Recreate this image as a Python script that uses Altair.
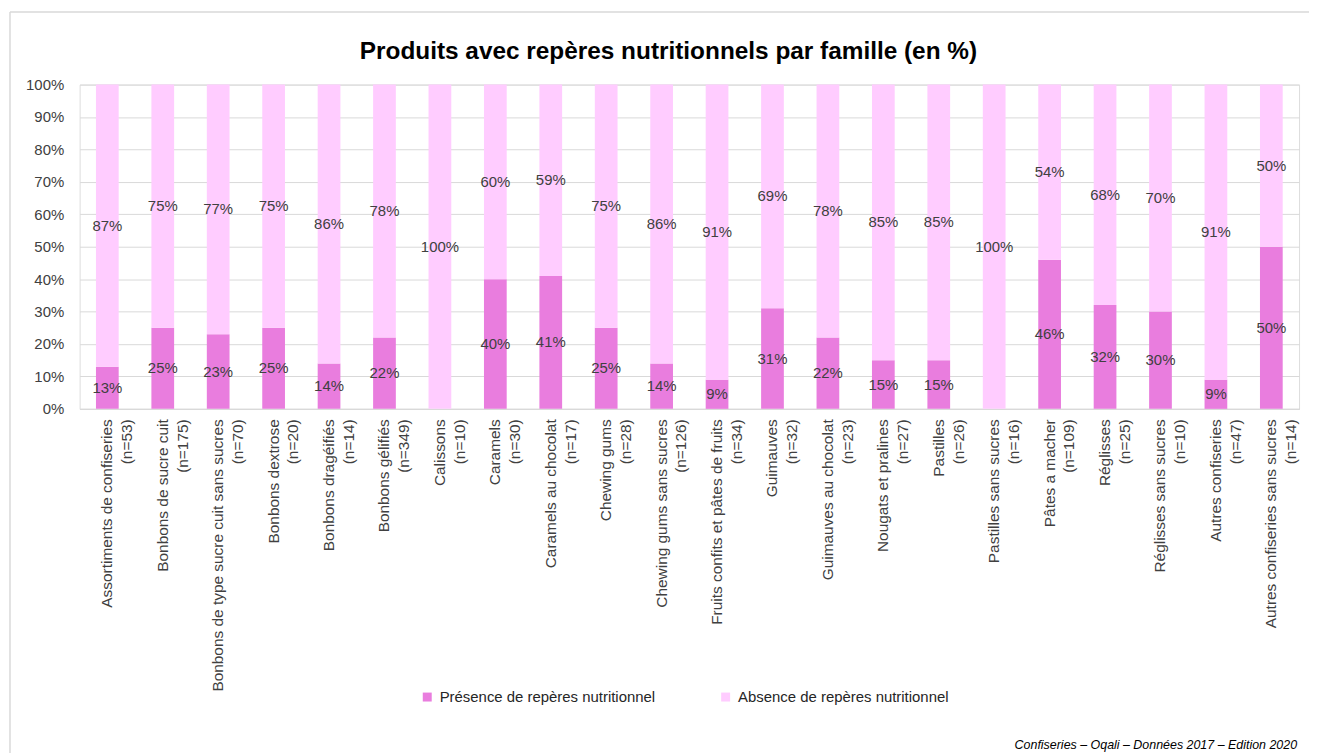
import altair as alt
import pandas as pd

# ---------------- data ----------------
familles = [
    "Assortiments de confiseries", "Bonbons de sucre cuit",
    "Bonbons de type sucre cuit sans sucres", "Bonbons dextrose",
    "Bonbons dragéifiés", "Bonbons gélifiés", "Calissons", "Caramels",
    "Caramels au chocolat", "Chewing gums", "Chewing gums sans sucres",
    "Fruits confits et pâtes de fruits", "Guimauves", "Guimauves au chocolat",
    "Nougats et pralines", "Pastilles", "Pastilles sans sucres",
    "Pâtes a macher", "Réglisses", "Réglisses sans sucres",
    "Autres confiseries", "Autres confiseries sans sucres",
]
effectifs = [53, 175, 70, 20, 14, 349, 10, 30, 17, 28, 126, 34, 32, 23, 27,
             26, 16, 109, 25, 10, 47, 14]
presence = [13, 25, 23, 25, 14, 22, 0, 40, 41, 25, 14, 9, 31, 22, 15, 15, 0,
            46, 32, 30, 9, 50]
absence = [87, 75, 77, 75, 86, 78, 100, 60, 59, 75, 86, 91, 69, 78, 85, 85,
           100, 54, 68, 70, 91, 50]
y_ticks = [0, 10, 20, 30, 40, 50, 60, 70, 80, 90, 100]
series = ["Présence de repères nutritionnel", "Absence de repères nutritionnel"]
colors = ["#E97DDE", "#FFCCFF"]
title_text = "Produits avec repères nutritionnels par famille (en %)"
footer_text = "Confiseries – Oqali – Données 2017 – Edition 2020"

FONT = "Liberation Sans"
LABEL_SIZE = 15.5

# approximate advance widths (Arial / Liberation Sans metrics, per 1000 em)
_w = {" ": 278, "\u00a0": 278, "(": 333, ")": 333, "=": 584, "%": 889}
for _d in "0123456789":
    _w[_d] = 556
_w.update(dict(a=556, b=556, c=500, d=556, e=556, f=278, g=556, h=556, i=222,
               j=222, k=500, l=222, m=833, n=556, o=556, p=556, q=556, r=333,
               s=500, t=278, u=556, v=500, w=722, x=500, y=500, z=500))
_w.update({"A": 667, "B": 667, "C": 722, "F": 611, "G": 778, "N": 722,
           "P": 667, "R": 722, "é": 556, "è": 556, "â": 556, "ê": 556})


def text_w(s):
    return sum(_w.get(ch, 556) for ch in s)


def make_key(name, n):
    l1, l2 = name, f"(n={n})"
    w1, w2 = text_w(l1), text_w(l2)
    pad = int(round(abs(w1 - w2) / 2 / 278))
    if w1 >= w2:
        l2 = l2 + "\u00a0" * pad
    else:
        l1 = l1 + "\u00a0" * pad
    return l1 + "|" + l2


keys = [make_key(f, n) for f, n in zip(familles, effectifs)]

rows = []
for k, p, a in zip(keys, presence, absence):
    rows.append({"key": k, "serie": series[0], "value": p / 100, "ord": 0})
    rows.append({"key": k, "serie": series[1], "value": a / 100, "ord": 1})
df = pd.DataFrame(rows)

W, H = 1226, 326

x_enc = alt.X(
    "key:N", sort=keys,
    scale=alt.Scale(paddingInner=0.59, paddingOuter=0.295),
    axis=alt.Axis(
        title=None, labelExpr="split(datum.value, '|')", labelAngle=270,
        labelAlign="right", labelBaseline="middle", labelFont=FONT,
        labelFontSize=LABEL_SIZE, labelColor="#404040", labelLineHeight=20,
        labelPadding=10, labelLimit=500, labelOverlap=False, ticks=False,
        domainColor="#d9d9d9", domainWidth=1, grid=False,
    ),
)

y_axis = alt.Axis(
    title=None, format=".0%", values=[v / 100 for v in y_ticks],
    labelFont=FONT, labelFontSize=15, labelColor="#404040",
    labelPadding=16, ticks=False, domain=False, grid=True,
    gridColor="#d9d9d9", gridWidth=1, labelOverlap=False,
)
y_scale = alt.Scale(domain=[0, 1], nice=False)

base = alt.Chart(df).transform_stack(
    stack="value", groupby=["key"], as_=["v0", "v1"],
    sort=[alt.SortField("ord", order="ascending")],
).transform_calculate(mid="(datum.v0 + datum.v1) / 2")

bars = base.mark_bar().encode(
    x=x_enc,
    y=alt.Y("v0:Q", scale=y_scale, axis=y_axis),
    y2="v1:Q",
    color=alt.Color(
        "serie:N", scale=alt.Scale(domain=series, range=colors),
        legend=alt.Legend(
            title=None, orient="none", legendX=342, legendY=608,
            direction="horizontal", symbolType="square", symbolSize=81,
            symbolStrokeWidth=0, labelFont=FONT, labelFontSize=15,
            labelColor="#262626", labelOffset=5, columnPadding=63,
            padding=0, labelLimit=400,
        ),
    ),
)

labels = base.transform_filter("datum.value > 0").mark_text(
    font=FONT, fontSize=15, color="#404040", baseline="middle", align="center"
).encode(
    x=x_enc,
    y=alt.Y("mid:Q", scale=y_scale, axis=y_axis),
    text=alt.Text("value:Q", format=".0%"),
)

one = pd.DataFrame({"t": [footer_text], "title": [title_text]})
footer = alt.Chart(one).mark_text(
    font=FONT, fontSize=12.5, fontStyle="italic", color="#000000",
    align="right", baseline="middle",
).encode(x=alt.value(1224), y=alt.value(664), text="t:N")

title = alt.Chart(one).mark_text(
    font=FONT, fontSize=24.5, fontWeight="bold", color="#000000",
    align="center", baseline="middle",
).encode(x=alt.value(592), y=alt.value(-33), text="title:N")

border_left = alt.Chart(one).mark_rule(color="#d9d9d9", strokeWidth=1.5).encode(
    x=alt.value(-70), y=alt.value(-73), y2=alt.value(700)
)
border_top = alt.Chart(one).mark_rule(color="#d9d9d9", strokeWidth=1.5).encode(
    x=alt.value(-70), x2=alt.value(1260), y=alt.value(-73)
)

chart = alt.layer(border_left, border_top, bars, labels, title, footer).properties(
    width=W, height=H,
    autosize=alt.AutoSizeParams(type="none"),
    padding={"left": 72, "top": 75, "right": 10, "bottom": 345},
).configure_view(stroke=None).configure(background="white")

chart.save("out.html", embed_options={"renderer": "svg", "actions": False})
